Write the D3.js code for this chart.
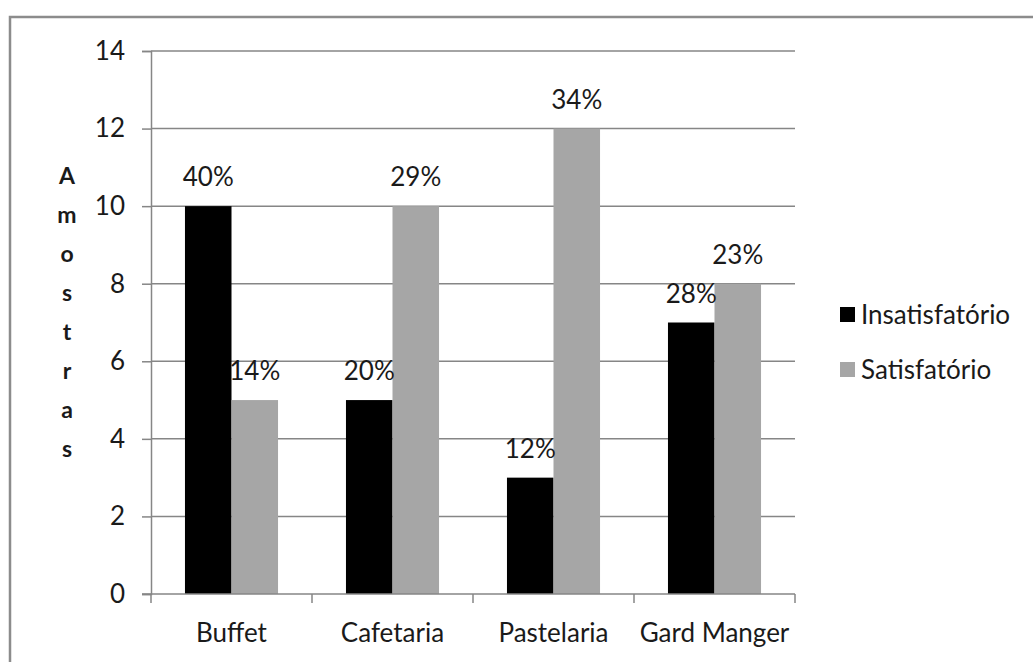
<!DOCTYPE html>
<html>
<head>
<meta charset="utf-8">
<script src="https://cdn.jsdelivr.net/npm/d3@7"></script>
<style>
  body { margin: 0; background: #fff; }
  text { font-family: Lato, "Open Sans", sans-serif; fill: #1a1a1a; }
</style>
</head>
<body>
<svg width="1033" height="662"></svg>
<script>
(function() {
    var categories = ["Buffet", "Cafetaria", "Pastelaria", "Gard Manger"];
    var series = ["Insatisfatório", "Satisfatório"];
    var insatisfatorio = [10, 5, 3, 7];
    var satisfatorio = [5, 10, 12, 8];
    var pctInsatisfatorio = ["40%", "20%", "12%", "28%"];
    var pctSatisfatorio = ["14%", "29%", "34%", "23%"];
    var yTicks = [0, 2, 4, 6, 8, 10, 12, 14];
    var colors = ["#000000", "#a6a6a6"];

    var svg = d3.select("svg");

    // outer chart border (runs off right / bottom edge like the source)
    svg.append("rect")
        .attr("x", 10).attr("y", 17)
        .attr("width", 1040).attr("height", 660)
        .attr("fill", "none")
        .attr("stroke", "#8c8c8c")
        .attr("stroke-width", 2.5);

    var left = 151, right = 795, top = 51, bottom = 594;

    var x0 = d3.scaleBand().domain(categories).range([left, right]);
    var x1 = d3.scaleBand().domain(series).range([0, x0.bandwidth()]).paddingOuter(0.73);
    var y = d3.scaleLinear().domain([0, 14]).range([bottom, top]);

    var rows = categories.map(function(c, i) {
        return {
            cat: c,
            vals: [
                {s: series[0], v: insatisfatorio[i], p: pctInsatisfatorio[i]},
                {s: series[1], v: satisfatorio[i], p: pctSatisfatorio[i]}
            ]
        };
    });

    // gridlines
    svg.append("g")
        .selectAll("line")
        .data(yTicks.filter(function(d) { return d > 0; }))
        .enter().append("line")
        .attr("x1", left).attr("x2", right)
        .attr("y1", function(d) { return y(d); })
        .attr("y2", function(d) { return y(d); })
        .attr("stroke", "#868686")
        .attr("stroke-width", 1.5);

    // bars
    var group = svg.append("g").selectAll("g")
        .data(rows)
        .enter().append("g")
        .attr("transform", function(d) { return "translate(" + x0(d.cat) + ",0)"; });

    group.selectAll("rect")
        .data(function(d) { return d.vals; })
        .enter().append("rect")
        .attr("x", function(d) { return x1(d.s); })
        .attr("width", x1.bandwidth())
        .attr("y", function(d) { return y(d.v); })
        .attr("height", function(d) { return y(0) - y(d.v); })
        .attr("fill", function(d, i) { return colors[i]; });

    group.selectAll("text")
        .data(function(d) { return d.vals; })
        .enter().append("text")
        .attr("x", function(d) { return x1(d.s) + x1.bandwidth() / 2; })
        .attr("y", function(d) { return y(d.v) - 20; })
        .attr("text-anchor", "middle")
        .style("font-size", "26px")
        .text(function(d) { return d.p; });

    // y axis
    var yAxis = svg.append("g")
        .attr("transform", "translate(" + left + ",0)")
        .call(d3.axisLeft(y).tickValues(yTicks).tickSize(9).tickPadding(17));
    yAxis.select(".domain").attr("stroke", "#868686").attr("stroke-width", 1.5);
    yAxis.selectAll(".tick line").attr("stroke", "#868686").attr("stroke-width", 1.5);
    yAxis.selectAll("text").style("font-size", "26px").attr("fill", "#1a1a1a");

    // x axis, ticks between categories
    var xAxisG = svg.append("g").attr("transform", "translate(0," + bottom + ")");
    xAxisG.append("line")
        .attr("x1", left - 9).attr("x2", right)
        .attr("stroke", "#868686").attr("stroke-width", 1.5);
    var bounds = categories.map(function(c) { return x0(c); }).concat([x0.range()[1]]);
    xAxisG.selectAll(".xt")
        .data(bounds)
        .enter().append("line")
        .attr("x1", function(d) { return d; })
        .attr("x2", function(d) { return d; })
        .attr("y1", 0).attr("y2", 9)
        .attr("stroke", "#868686").attr("stroke-width", 1.5);
    xAxisG.selectAll(".xl")
        .data(categories)
        .enter().append("text")
        .attr("x", function(d) { return x0(d) + x0.bandwidth() / 2; })
        .attr("y", 48)
        .attr("text-anchor", "middle")
        .style("font-size", "26px")
        .text(function(d) { return d; });

    // vertical stacked y title
    var title = "Amostras".split("");
    svg.append("g").selectAll("text")
        .data(title)
        .enter().append("text")
        .attr("x", 67)
        .attr("y", function(d, i) { return 184 + i * 39; })
        .attr("text-anchor", "middle")
        .style("font-size", "23px")
        .style("font-weight", "bold")
        .attr("fill", "#000")
        .text(function(d) { return d; });

    // legend
    var legend = svg.append("g").selectAll("g")
        .data(series)
        .enter().append("g")
        .attr("transform", function(d, i) { return "translate(840," + (315 + i * 55) + ")"; });
    legend.append("rect")
        .attr("x", 0).attr("y", -8)
        .attr("width", 15).attr("height", 15)
        .attr("fill", function(d, i) { return colors[i]; });
    legend.append("text")
        .attr("x", 21).attr("y", 9)
        .style("font-size", "26px")
        .text(function(d) { return d; });
})();
</script>
</body>
</html>
